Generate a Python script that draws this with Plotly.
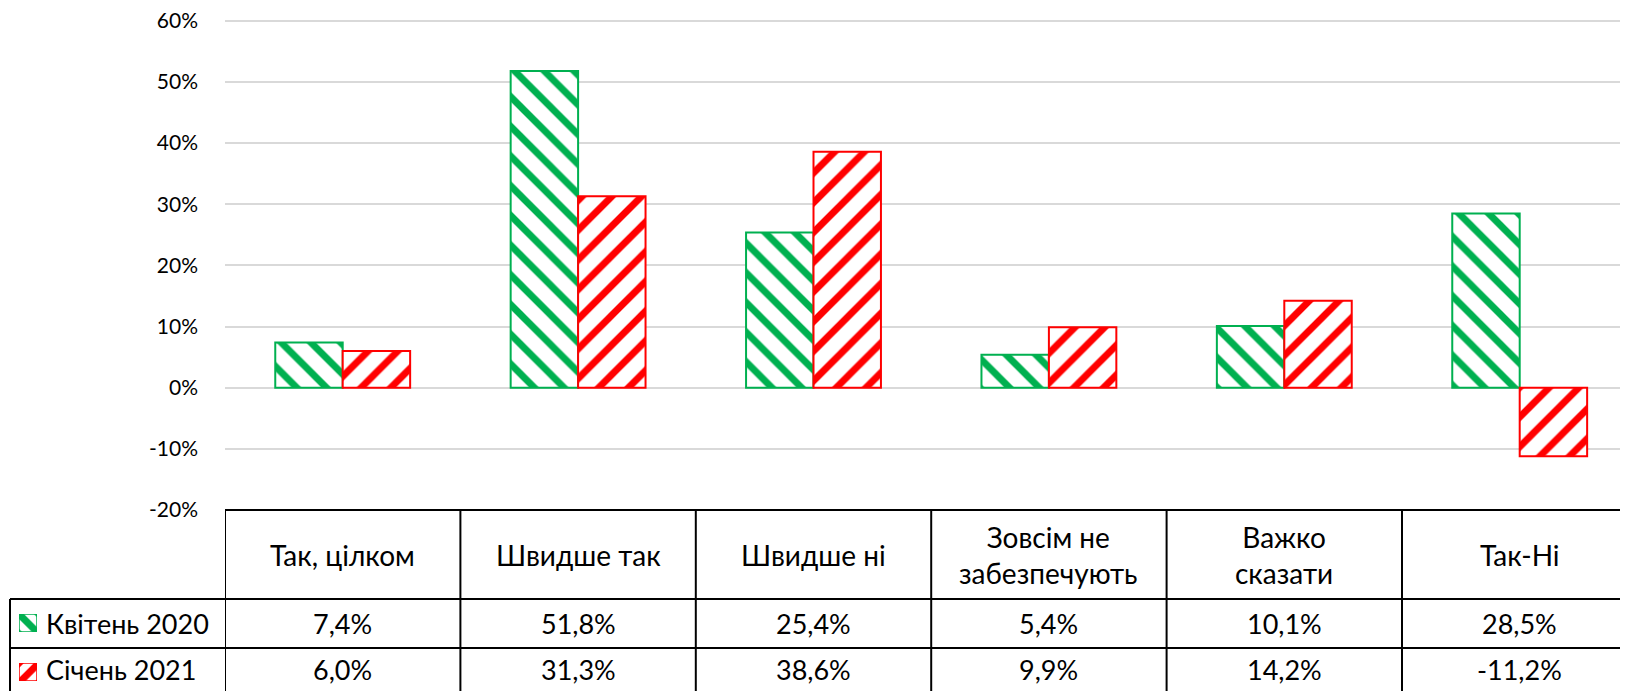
import plotly.graph_objects as go

categories = ["Так, цілком", "Швидше так", "Швидше ні", "Зовсім не<br>забезпечують", "Важко<br>сказати", "Так-Ні"]
series_names = ["Квітень 2020", "Січень 2021"]
apr2020 = [7.4, 51.8, 25.4, 5.4, 10.1, 28.5]
jan2021 = [6.0, 31.3, 38.6, 9.9, 14.2, -11.2]
tick_vals = [-20, -10, 0, 10, 20, 30, 40, 50, 60]
tick_text = ["-20%", "-10%", "0%", "10%", "20%", "30%", "40%", "50%", "60%"]

W, H = 1628, 691
GREEN = "#00B050"
RED = "#FF0000"
FONT = "Lato"
OFF = 8  # page offset of the figure inside the browser window

def py(px):
    return 1 - (px - OFF) / H

def px_x(px):
    return (px - OFF) / W

idx = list(range(len(categories)))
x_left = 225
col_w = 235.4
y_bottom_px, y_top_px = 510.0, 20.8
px_per_unit = (y_bottom_px - y_top_px) / 80.0
y_max = 60.3
y_top_ext = y_top_px - (y_max - 60) * px_per_unit

fig = go.Figure()
fig.add_trace(go.Bar(
    x=idx, y=apr2020, name=series_names[0],
    marker=dict(color="white", line=dict(color=GREEN, width=2),
                pattern=dict(shape="\\", fgcolor=GREEN, bgcolor="white", fgopacity=1,
                             size=21, solidity=0.33)),
))
fig.add_trace(go.Bar(
    x=idx, y=jan2021, name=series_names[1],
    marker=dict(color="white", line=dict(color=RED, width=2),
                pattern=dict(shape="/", fgcolor=RED, bgcolor="white", fgopacity=1,
                             size=21, solidity=0.33)),
))

# legend icons inside the table
icon_specs = [(GREEN, "\\", 614, 632, "x2", "y2"), (RED, "/", 663, 681, "x3", "y3")]
for color, shape, y0, y1, xa, ya in icon_specs:
    fig.add_trace(go.Bar(
        x=[0], y=[1], width=[1], xaxis=xa, yaxis=ya, showlegend=False, hoverinfo="skip",
        marker=dict(color="white", line=dict(color=color, width=1.5),
                    pattern=dict(shape=shape, fgcolor=color, bgcolor="white", fgopacity=1,
                                 size=14, solidity=0.5)),
    ))

xr_end = -0.5 + (W - (x_left - OFF)) / col_w
fig.update_layout(
    width=W, height=H,
    margin=dict(l=0, r=0, t=0, b=0, autoexpand=False),
    paper_bgcolor="white", plot_bgcolor="white",
    barmode="group", bargap=0.427, bargroupgap=0,
    showlegend=False,
    font=dict(family=FONT, color="black"),
    xaxis=dict(domain=[px_x(x_left), 1], range=[-0.5, xr_end], showticklabels=False, automargin=False,
               showgrid=False, zeroline=False, showline=False, fixedrange=True),
    yaxis=dict(domain=[py(y_bottom_px), py(y_top_ext)], range=[-20, y_max], tickvals=tick_vals, ticktext=tick_text,
               automargin=False, ticklabeloverflow="allow",
               showgrid=True, gridcolor="#D9D9D9", gridwidth=1.5, zeroline=True,
               zerolinecolor="#D9D9D9", zerolinewidth=1.5, showline=False,
               tickfont=dict(family=FONT, size=21, color="black"), ticklabelstandoff=26),
    xaxis2=dict(domain=[px_x(19), px_x(37)], range=[-0.5, 0.5], visible=False, anchor="y2", automargin=False),
    yaxis2=dict(domain=[py(632), py(614)], range=[0, 1], visible=False, anchor="x2", automargin=False),
    xaxis3=dict(domain=[px_x(19), px_x(37)], range=[-0.5, 0.5], visible=False, anchor="y3", automargin=False),
    yaxis3=dict(domain=[py(681), py(663)], range=[0, 1], visible=False, anchor="x3", automargin=False),
)

line = dict(color="black", width=2)
shapes = []
# horizontal table lines
shapes.append(dict(type="line", xref="paper", yref="paper", x0=px_x(x_left), x1=1, y0=py(510), y1=py(510), line=line))
for yy in (599, 648):
    shapes.append(dict(type="line", xref="paper", yref="paper", x0=px_x(10), x1=1, y0=py(yy), y1=py(yy), line=line))
# vertical lines
shapes.append(dict(type="line", xref="paper", yref="paper", x0=px_x(10), x1=px_x(10), y0=py(599), y1=-0.05, line=line))
for i in idx:
    xv = i - 0.5
    shapes.append(dict(type="line", xref="x", yref="paper", x0=xv, x1=xv, y0=py(510), y1=-0.05, line=line))
shapes.append(dict(type="line", xref="x", yref="paper", x0=len(idx) - 0.5, x1=len(idx) - 0.5, y0=py(510), y1=-0.05, line=line))
fig.update_layout(shapes=shapes)

ann = []
for i, cat in enumerate(categories):
    ann.append(dict(x=i, y=py(555), xref="x", yref="paper", text=cat, showarrow=False,
                    xanchor="center", yanchor="middle",
                    font=dict(family=FONT, size=28, color="black"), align="center"))
    for vals, yc in ((apr2020, 623.5), (jan2021, 669.5)):
        ann.append(dict(x=i, y=py(yc), xref="x", yref="paper",
                        text=f"{vals[i]:.1f}%".replace(".", ","), showarrow=False,
                        xanchor="center", yanchor="middle",
                        font=dict(family=FONT, size=27, color="black")))
for name, yc in zip(series_names, (623.5, 669.5)):
    ann.append(dict(x=px_x(44), y=py(yc), xref="paper", yref="paper", text=name, showarrow=False,
                    xanchor="left", yanchor="middle", font=dict(family=FONT, size=27, color="black")))
fig.update_layout(annotations=ann)

fig.write_html("out.html")
